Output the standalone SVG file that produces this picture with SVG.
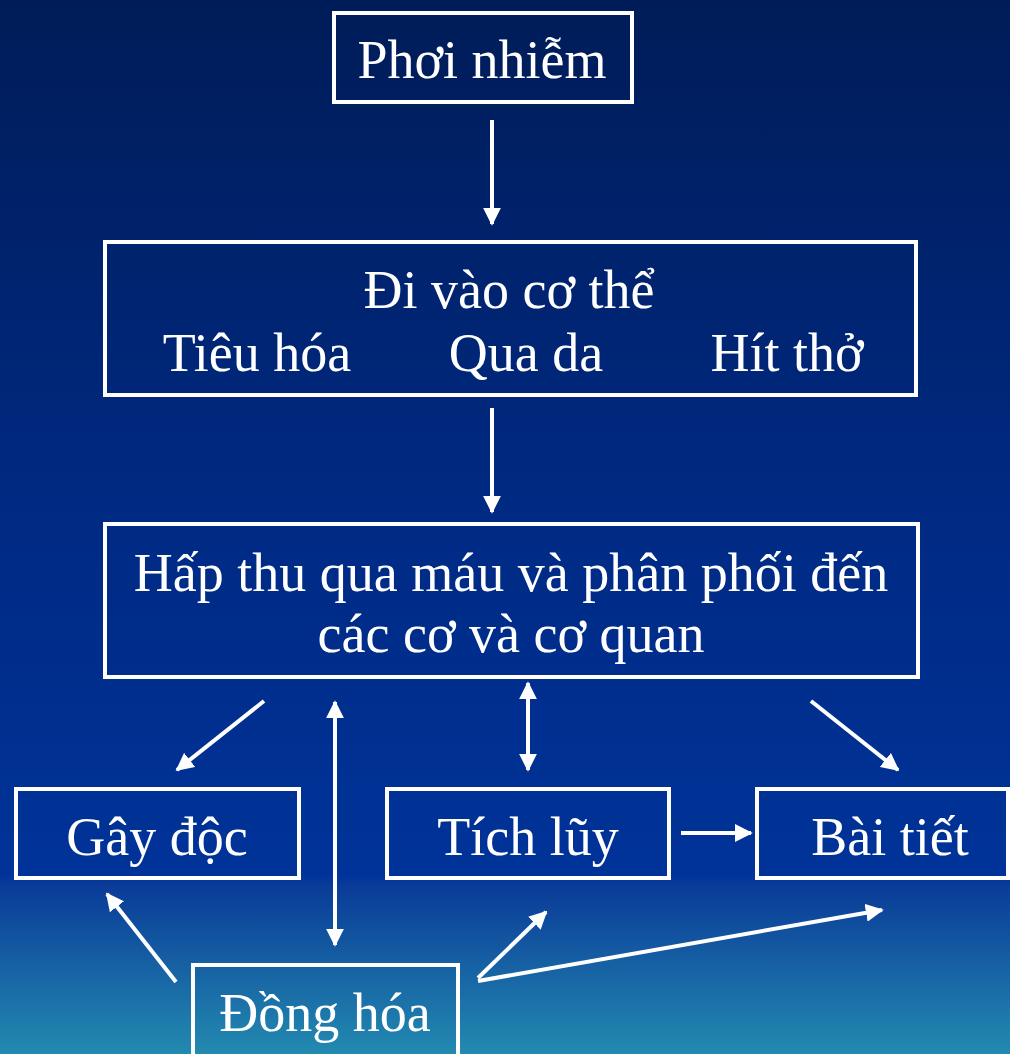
<svg xmlns="http://www.w3.org/2000/svg" width="1010" height="1054" viewBox="0 0 1010 1054">
<defs>
<linearGradient id="bg" x1="0" y1="0" x2="0" y2="1054" gradientUnits="userSpaceOnUse">
<stop offset="0" stop-color="#001C58"/>
<stop offset="0.5" stop-color="#002A84"/>
<stop offset="0.83" stop-color="#003399"/>
<stop offset="0.84" stop-color="#0A3B98"/>
<stop offset="1" stop-color="#238AB0"/>
</linearGradient>
<marker id="ah" viewBox="0 0 10 10" refX="9" refY="5" markerWidth="4.5" markerHeight="4.5" orient="auto-start-reverse" markerUnits="strokeWidth">
<path d="M0,0 L10,5 L0,10 z" fill="#fff"/>
</marker>
<style>
.box{fill:none;stroke:#fff;stroke-width:4}
.t{font-family:"Liberation Serif","Times New Roman",serif;font-size:54px;fill:#fff;text-anchor:middle}
.c{stroke:#fff;stroke-width:4;fill:none;marker-end:url(#ah)}
.d{marker-start:url(#ah)}
</style>
</defs>
<rect width="1010" height="1054" fill="url(#bg)"/>
<g id="phoi-nhiem"><rect class="box" x="334" y="13" width="298" height="89"/><text class="t" x="482" y="78">Phơi nhiễm</text></g>
<g id="di-vao"><rect class="box" x="105" y="242" width="811" height="153"/><text class="t" x="509" y="308">Đi vào cơ thể</text><text class="t" x="257" y="371">Tiêu hóa</text><text class="t" x="526" y="371">Qua da</text><text class="t" x="787" y="371">Hít thở</text></g>
<g id="hap-thu"><rect class="box" x="105" y="524" width="813" height="153"/><text class="t" x="511" y="591">Hấp thu qua máu và phân phối đến</text><text class="t" x="511" y="652">các cơ và cơ quan</text></g>
<g id="gay-doc"><rect class="box" x="16" y="789" width="283" height="89"/><text class="t" x="157" y="855">Gây độc</text></g>
<g id="tich-luy"><rect class="box" x="387" y="789" width="282" height="89"/><text class="t" x="528" y="855">Tích lũy</text></g>
<g id="bai-tiet"><rect class="box" x="757" y="789" width="251" height="89"/><text class="t" x="890" y="855">Bài tiết</text></g>
<g id="dong-hoa"><rect class="box" x="193" y="965" width="265" height="95"/><text class="t" x="325" y="1031">Đồng hóa</text></g>
<g id="connectors">
<line class="c" x1="492" y1="120" x2="492" y2="224"/>
<line class="c" x1="492" y1="408" x2="492" y2="512"/>
<line class="c" x1="264" y1="701" x2="177" y2="770"/>
<line class="c d" x1="335" y1="702" x2="335" y2="945"/>
<line class="c d" x1="528" y1="683" x2="528" y2="770"/>
<line class="c" x1="811" y1="701" x2="898" y2="770"/>
<line class="c" x1="681" y1="833" x2="751" y2="833"/>
<line class="c" x1="176" y1="982" x2="107" y2="894"/>
<line class="c" x1="478" y1="978" x2="546" y2="912"/>
<line class="c" x1="478" y1="981" x2="882" y2="910"/>
</g>
</svg>
